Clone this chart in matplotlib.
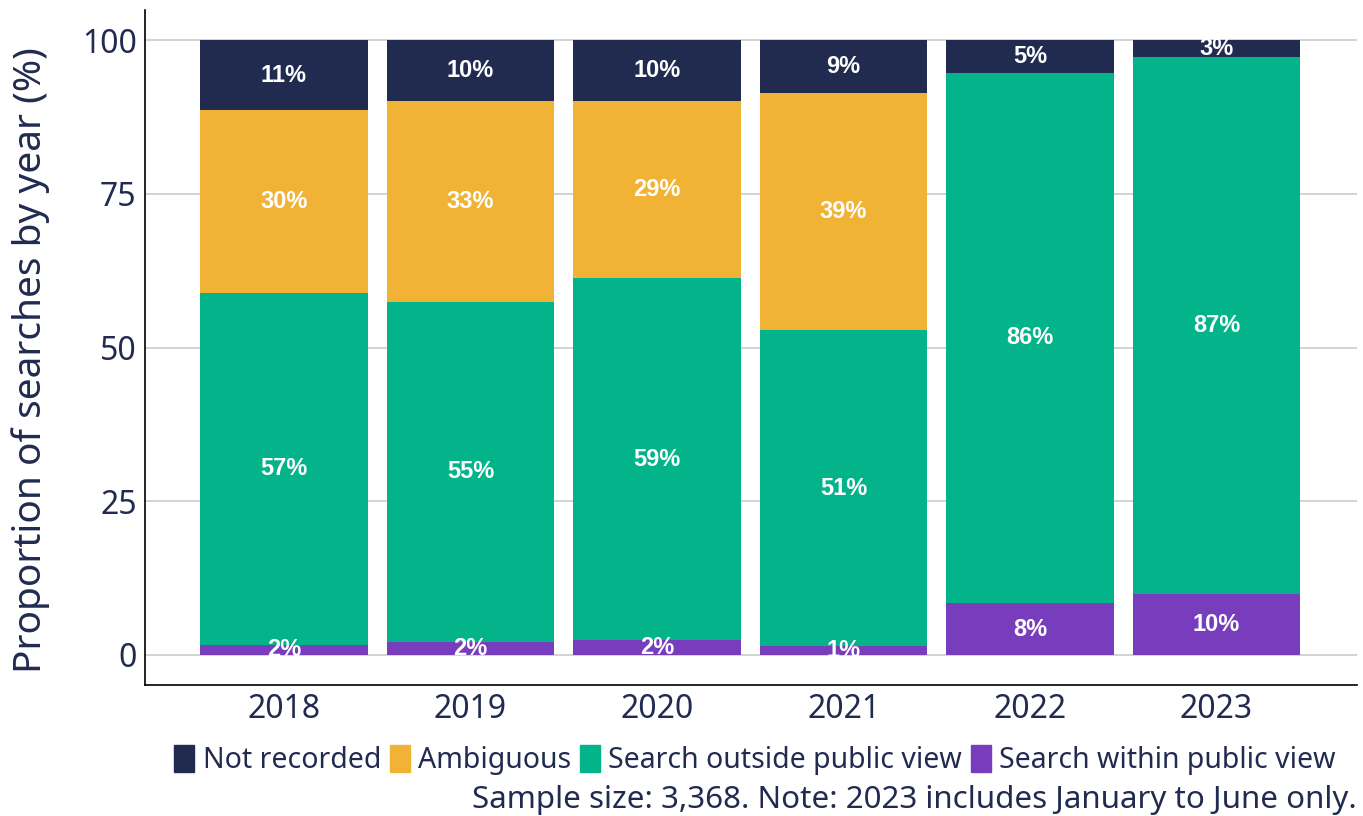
import numpy as np
import matplotlib.pyplot as plt
from matplotlib.patches import Patch

years = ["2018", "2019", "2020", "2021", "2022", "2023"]
within_public = [1.6, 2.1, 2.4, 1.4, 8.4, 9.9]
outside_public = [57.3, 55.3, 58.9, 51.4, 86.3, 87.3]
ambiguous = [29.7, 32.7, 28.8, 38.6, 0.0, 0.0]
not_recorded = [11.4, 9.9, 9.9, 8.6, 5.3, 2.8]

series = [
    ("Search within public view", within_public, "#773DBD"),
    ("Search outside public view", outside_public, "#03B38A"),
    ("Ambiguous", ambiguous, "#F0B335"),
    ("Not recorded", not_recorded, "#212B50"),
]

text_col = "#212B50"
plt.rcParams['font.family'] = ['Noto Sans', 'DejaVu Sans']

fig = plt.figure(figsize=(13.63, 8.16), dpi=100)
ax = fig.add_axes([145 / 1363, 1 - 685 / 816, (1357 - 145) / 1363, (685 - 10) / 816])

x = np.arange(len(years))
bottom = np.zeros(len(years))
for name, vals, col in series:
    vals = np.array(vals)
    ax.bar(x, vals, width=0.9, bottom=bottom, color=col, zorder=2)
    for xi, b, v in zip(x, bottom, vals):
        if v > 0:
            ax.text(xi, b + v / 2, f"{v:.0f}%", ha="center", va="center",
                    color="white", fontsize=17, fontweight="bold",
                    family="Liberation Sans", zorder=3)
    bottom += vals

ax.set_xlim(-0.745, 5.753)
ax.set_ylim(-4.9, 104.9)
ax.set_yticks([0, 25, 50, 75, 100])
ax.set_xticks(x)
ax.set_xticklabels(years)
ax.tick_params(length=0, labelsize=23, colors=text_col, pad=6)
ax.yaxis.grid(True, color="#cccccc", linewidth=1.2, zorder=0)
ax.set_axisbelow(True)
for s in ["top", "right"]:
    ax.spines[s].set_visible(False)
for s in ["left", "bottom"]:
    ax.spines[s].set_color("black")
    ax.spines[s].set_linewidth(1.2)
ax.set_ylabel("Proportion of searches by year (%)", fontsize=28, color=text_col)
ax.yaxis.set_label_coords(-0.078, 0.481)

handles = [Patch(color=c, label=n) for n, _, c in reversed(series)]
fig.legend(handles=handles, loc="center", bbox_to_anchor=(755 / 1363, 1 - 760 / 816),
           ncol=4, frameon=False, fontsize=20.5, handlelength=0.7, handleheight=1.1,
           handletextpad=0.3, columnspacing=0.3, labelcolor=text_col, borderpad=0)
fig.text(1357 / 1363, 1 - 800 / 816, "Sample size: 3,368. Note: 2023 includes January to June only.",
         ha="right", va="center", fontsize=22.5, color=text_col)

fig.savefig("out.png", dpi=100)
